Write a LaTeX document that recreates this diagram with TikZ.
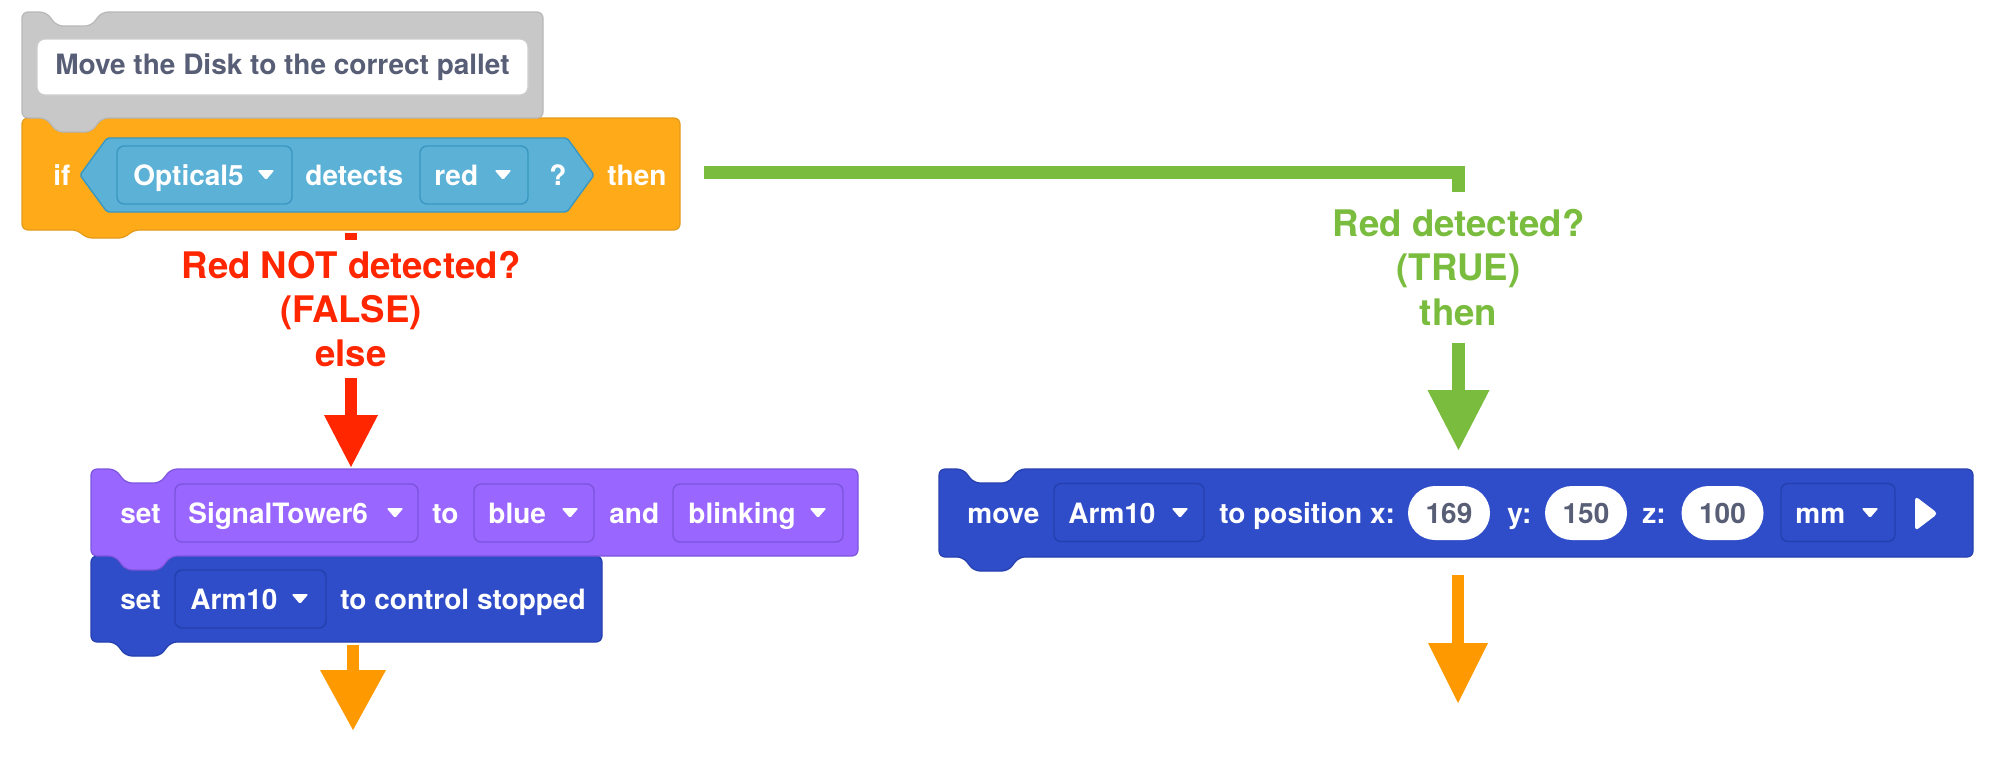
\documentclass[tikz,border=0pt]{standalone}
\usepackage{fontspec}
\setmainfont{TeX Gyre Heros}
\usetikzlibrary{arrows.meta}
\definecolor{gblk}{HTML}{C8C8C8}
\definecolor{gblkb}{HTML}{B8B8B8}
\definecolor{ctrl}{HTML}{FFAB19}
\definecolor{ctrlb}{HTML}{E39A1B}
\definecolor{sens}{HTML}{5CB1D6}
\definecolor{sensb}{HTML}{3A97C2}
\definecolor{looks}{HTML}{9966FF}
\definecolor{looksb}{HTML}{7D55DC}
\definecolor{motion}{HTML}{2F4CC9}
\definecolor{motionb}{HTML}{2540AE}
\definecolor{txtgray}{HTML}{575E75}
\definecolor{lblred}{HTML}{FF2600}
\definecolor{lblgreen}{HTML}{79BC3E}
\definecolor{arrorange}{HTML}{FF9900}
\newcommand\stackblock[5]{%
  \path[#1] (#2,#5) -- (#2,#3) -- (#2+24,#3) -- (#2+35,#3+14) -- (#2+69,#3+14) -- (#2+80,#3)
    -- (#4,#3) -- (#4,#5) -- (#2+80,#5) -- (#2+69,#5+14) -- (#2+35,#5+14) -- (#2+24,#5) -- cycle;}
\begin{document}
\begin{tikzpicture}[x=0.5pt,y=-0.5pt,
  blockfont/.style={font=\bfseries\fontsize{14}{16}\selectfont},
  wtxt/.style={blockfont, text=white, inner sep=0pt, anchor=base west},
  field/.style={rounded corners=3.5pt, line width=0.7pt, inner sep=0pt, minimum height=29pt},
  oval/.style={blockfont, fill=white, rounded corners=13.5pt, minimum width=41pt, minimum height=27pt, inner sep=0pt, text=txtgray},
  lbl/.style={font=\bfseries\fontsize{18.3}{22.2}\selectfont, align=center, inner sep=0pt},
  redline/.style={draw=lblred, line width=6pt},
  redhead/.style={-{Triangle[length=26pt,width=27pt,line width=0pt]}},
  greenline/.style={draw=lblgreen, line width=6.5pt},
  greenhead/.style={-{Triangle[length=30pt,width=31pt,line width=0pt]}},
  orangearrow/.style={draw=arrorange, line width=6pt, -{Triangle[length=30pt,width=#1,line width=0pt]}},
  orangearrow/.default=31pt,
  dd/.pic={\fill[white, rounded corners=0.7pt] (-8.5,-5) -- (8.5,-5) -- (0,5) -- cycle;}
]
\fill[white] (0,0) rectangle (2000,757);
\useasboundingbox (0,0) rectangle (2000,757);

% ---------- orange "if" block ----------
\path[fill=ctrl, draw=ctrlb, line width=0.6pt, rounded corners=3pt]
  (22,230) -- (22,118) -- (46,118) -- (57,132) -- (91,132) -- (102,118) -- (680,118) -- (680,230)
  -- (133,230) -- (125,238) -- (86,238) -- (78,230) -- cycle;
% ---------- gray comment block ----------
\stackblock{fill=gblk, draw=gblkb, line width=0.6pt, rounded corners=3pt}{22}{12}{543}{118}
\node[blockfont, fill=white, draw=gblkb!70, line width=0.6pt, rounded corners=4pt,
      minimum width=245.5pt, minimum height=28pt, inner sep=0pt, text=txtgray] (title) at (282.5,67)
      {Move the Disk to the correct pallet};

% boolean hexagon
\path[fill=sens, draw=sensb, line width=0.7pt, rounded corners=1pt]
  (80,175) -- (107,138) -- (567,138) -- (594,175) -- (567,212) -- (107,212) -- cycle;
\node[wtxt] (tif) at (53,185) {if};
\node[field, fill=sens, draw=sensb, minimum width=87.5pt] (fopt) at (204.5,175) {};
\node[wtxt] (topt) at (133,185) {Optical5};
\pic at (266,175) {dd};
\node[wtxt] (tdet) at (305,185) {detects};
\node[field, fill=sens, draw=sensb, minimum width=54pt] (fred) at (474,175) {};
\node[wtxt] (tred) at (434,185) {red};
\pic at (503,175) {dd};
\node[wtxt] (tq) at (549,185) {?};
\node[wtxt] (tthen) at (607,185) {then};

% ---------- left branch blocks ----------
\stackblock{fill=motion, draw=motionb, line width=0.6pt, rounded corners=3pt}{91}{556}{602}{642}
\stackblock{fill=looks, draw=looksb, line width=0.6pt, rounded corners=3pt}{91}{469}{858}{556}
\node[wtxt] (tset1) at (120,523) {set};
\node[field, fill=looks, draw=looksb, minimum width=121.5pt] (fsig) at (296.5,513) {};
\node[wtxt] (tsig) at (188,523) {SignalTower6};
\pic at (395,513) {dd};
\node[wtxt] (tto1) at (432,523) {to};
\node[field, fill=looks, draw=looksb, minimum width=60pt] (fblue) at (534,513) {};
\node[wtxt] (tblue) at (488,523) {blue};
\pic at (570,513) {dd};
\node[wtxt] (tand) at (609,523) {and};
\node[field, fill=looks, draw=looksb, minimum width=85pt] (fblink) at (758,513) {};
\node[wtxt] (tblink) at (688,523) {blinking};
\pic at (818,513) {dd};

\node[wtxt] (tset2) at (120,609) {set};
\node[field, fill=motion, draw=motionb, minimum width=75.5pt] (farm1) at (250.5,599) {};
\node[wtxt] (tarm1) at (190,609) {Arm10};
\pic at (300,599) {dd};
\node[wtxt] (tstop) at (340,609) {to control stopped};

% ---------- right branch block ----------
\stackblock{fill=motion, draw=motionb, line width=0.6pt, rounded corners=3pt}{939}{469}{1973}{557}
\node[wtxt] (tmove) at (967,523) {move};
\node[field, fill=motion, draw=motionb, minimum width=75pt] (farm2) at (1129,512.5) {};
\node[wtxt] (tarm2) at (1068,523) {Arm10};
\pic at (1180,513) {dd};
\node[wtxt] (tpos) at (1219,523) {to position x:};
\node[oval] (vx) at (1449,513) {169};
\node[wtxt] (ty) at (1507,523) {y:};
\node[oval] (vy) at (1586,513) {150};
\node[wtxt] (tz) at (1642,523) {z:};
\node[oval] (vz) at (1722.5,513) {100};
\node[field, fill=motion, draw=motionb, minimum width=57pt] (fmm) at (1838,512.5) {};
\node[wtxt] (tmm) at (1795,523) {mm};
\pic at (1870,513) {dd};
\fill[white, rounded corners=2pt] (1915,496) -- (1938,513.5) -- (1915,531) -- cycle;

% ---------- labels ----------
\node[lbl, text=lblred, minimum height=69pt] (falselbl) at (351,309) {Red NOT detected?\\(FALSE)\\else};
\node[lbl, text=lblgreen, minimum height=75pt] (truelbl) at (1458.5,267.5) {Red detected?\\(TRUE)\\then};

% ---------- connectors ----------
\coordinate (ifout) at (351,233);
\coordinate (set1in) at (351,467);
\coordinate (thenout) at (704,172);
\coordinate (thenturn) at (1458.5,172);
\coordinate (movein) at (1458.5,450);
\coordinate (set2out) at (353,645);
\coordinate (leftend) at (353,730);
\coordinate (moveout) at (1458,575);
\coordinate (rightend) at (1458,703);

\draw[redline] (ifout) -- (falselbl.north);
\draw[redline, redhead] (falselbl.south) -- (set1in);
\draw[greenline] (thenout) -- (thenturn) -- (truelbl.north);
\draw[greenline, greenhead] (truelbl.south) -- (movein);
\draw[orangearrow=33pt] (set2out) -- (leftend);
\draw[orangearrow=30pt] (moveout) -- (rightend);
\end{tikzpicture}
\end{document}
